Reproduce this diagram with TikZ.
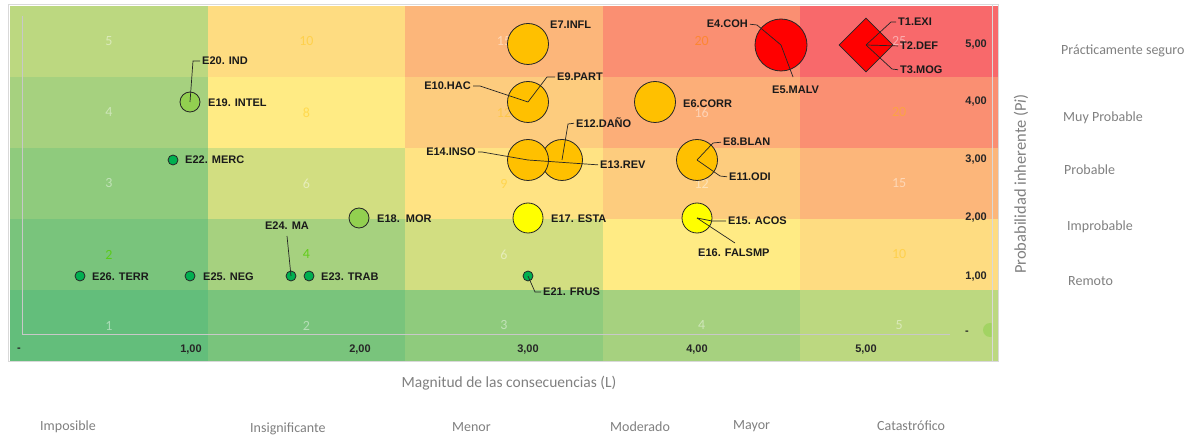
\documentclass[tikz,border=0pt]{standalone}
\usepackage{fontspec}
\setmainfont{Liberation Sans}
\newfontfamily\calib{Carlito}
\usetikzlibrary{shapes.geometric}
\definecolor{v1}{HTML}{63BE7B}
\definecolor{v2}{HTML}{79C47C}
\definecolor{v3}{HTML}{8FCB7D}
\definecolor{v4}{HTML}{A6D17F}
\definecolor{v5}{HTML}{BCD880}
\definecolor{v6}{HTML}{D2DE81}
\definecolor{v8}{HTML}{FFEB84}
\definecolor{v9}{HTML}{FFE383}
\definecolor{v10}{HTML}{FEDC81}
\definecolor{v12}{HTML}{FDCC7E}
\definecolor{v15}{HTML}{FCB67A}
\definecolor{v16}{HTML}{FCAE78}
\definecolor{v20}{HTML}{FA8F72}
\definecolor{v25}{HTML}{F8696B}
\definecolor{borange}{HTML}{FFC000}
\definecolor{bred}{HTML}{FF0000}
\definecolor{byellow}{HTML}{FFFF00}
\definecolor{blgreen}{HTML}{92D050}
\definecolor{bgreen}{HTML}{00B050}
\definecolor{labc}{HTML}{1A1A1A}
\definecolor{tickc}{HTML}{262626}
\definecolor{titlec}{HTML}{808080}
\definecolor{framec}{HTML}{D9D9D9}
\definecolor{axisc}{HTML}{C8C8C8}
\begin{document}
\begin{tikzpicture}[x=1pt,y=-1pt,
  lab/.style={font=\fontsize{11}{12}\selectfont\bfseries, text=labc, inner sep=0pt},
  bub/.style={circle, draw=black!85, line width=0.8pt, inner sep=0pt, minimum size=#1},
  lead/.style={draw=black!85, line width=0.7pt},
  cellnum/.style={font=\calib\fontsize{14}{14}\selectfont, inner sep=0pt},
  numW/.style={text=white, text opacity=0.45},
  numY/.style={text=borange, text opacity=0.4},
  numO/.style={text=orange, text opacity=0.55},
  numG/.style={text=green!60!yellow!80!black, text opacity=0.8},
  cat/.style={font=\calib\fontsize{14}{14}\selectfont, text=titlec, inner sep=0pt},
  tick/.style={font=\fontsize{11}{12}\selectfont\bfseries, text=tickc, inner sep=0pt}]
\useasboundingbox (0,0) rectangle (1202,438);
\fill[white] (0,0) rectangle (1202,438);
% heat map cells
\foreach \c in {1,...,5}{
  \foreach \r in {1,...,5}{
    \pgfmathtruncatemacro\v{\c*\r}
    \fill[v\v] ({10+197.6*(\c-1)},{361-71*\r}) rectangle ({10+197.6*\c},{361-71*(\r-1)});
  }
}
% cell numbers
\foreach \c/\r/\st in {1/5/numW,1/4/numW,1/3/numW,1/2/numG,1/1/numW,
  2/5/numY,2/4/numY,2/3/numW,2/2/numG,2/1/numW,
  3/5/numW,3/4/numY,3/3/numY,3/2/numW,3/1/numW,
  4/5/numO,4/4/numW,4/3/numW,4/2/numW,4/1/numW,
  5/5/numW,5/4/numY,5/3/numW,5/2/numY,5/1/numW}{
  \pgfmathtruncatemacro\v{\c*\r}
  \node[cellnum,\st] (n\c\r) at ({10+197.6*(\c-0.5)},{361-71*(\r-0.5)}) {\v};
}
% frame and axes
\draw[framec, line width=1pt] (8,5) rectangle (998,361);
\draw[framec, line width=0.8pt] (992,5) -- (992,361);
\draw[axisc, line width=0.8pt] (22,16) -- (22,334) -- (950,334);
\begin{scope}
  \clip (980,315) rectangle (991.5,345);
  \fill[blgreen, opacity=0.6] (990,330) circle (7);
\end{scope}
% bubbles
\node[bub=20pt, fill=blgreen] (e19) at (190,102) {};
\node[bub=10pt, fill=bgreen] (e22) at (173,160) {};
\node[bub=10pt, fill=bgreen] (e26) at (80,276) {};
\node[bub=10pt, fill=bgreen] (e25) at (190,276) {};
\node[bub=10pt, fill=bgreen] (e24) at (291,276) {};
\node[bub=10pt, fill=bgreen] (e23) at (309,276) {};
\node[bub=20pt, fill=blgreen] (e18) at (359,218) {};
\node[bub=10pt, fill=bgreen] (e21) at (528,276) {};
\node[bub=30pt, fill=byellow] (e17) at (528,218) {};
\node[bub=30pt, fill=byellow] (e15) at (697,218) {};
\node[bub=41pt, fill=borange] (e7) at (528,44) {};
\node[bub=41pt, fill=borange] (e9) at (528,102) {};
\node[bub=41pt, fill=borange] (e12) at (562,160) {};
\node[bub=41pt, fill=borange] (e14) at (528,160) {};
\node[bub=41pt, fill=borange] (e6) at (655,102) {};
\node[bub=41pt, fill=borange] (e8) at (697,160) {};
\node[bub=52pt, fill=bred] (e4) at (781,45) {};
\node[diamond, draw=black!85, line width=0.8pt, fill=bred, inner sep=0pt,
      minimum width=54pt, minimum height=54pt] (t1) at (866,45) {};
% labels
\node[lab, anchor=west] (l20) at (202,61) {E20. IND};
\node[lab, anchor=west] (l19) at (208,103) {E19. INTEL};
\node[lab, anchor=west] (l22) at (185,160) {E22. MERC};
\node[lab, anchor=west] (l26) at (92,277) {E26. TERR};
\node[lab, anchor=west] (l25) at (203,277) {E25. NEG};
\node[lab] (l24) at (287,226) {E24. MA};
\node[lab, anchor=west] (l23) at (321,277) {E23. TRAB};
\node[lab, anchor=west] (l18) at (377,219) {E18.\ \ MOR};
\node[lab, anchor=west] (l7) at (550,25) {E7.INFL};
\node[lab, anchor=east] (l10) at (471,86) {E10.HAC};
\node[lab, anchor=west] (l9) at (557,77) {E9.PART};
\node[lab, anchor=west] (l6) at (683,104) {E6.CORR};
\node[lab, anchor=west] (l12) at (576,123) {E12.DAÑO};
\node[lab, anchor=east] (l14) at (476,152) {E14.INSO};
\node[lab, anchor=west] (l13) at (600,165) {E13.REV};
\node[lab, anchor=west] (l8) at (723,142) {E8.BLAN};
\node[lab, anchor=west] (l11) at (729,177) {E11.ODI};
\node[lab, anchor=east] (l4) at (748,24) {E4.COH};
\node[lab, anchor=west] (l5) at (772,90) {E5.MALV};
\node[lab, anchor=west] (lt1) at (898,22) {T1.EXI};
\node[lab, anchor=west] (lt2) at (900,46) {T2.DEF};
\node[lab, anchor=west] (lt3) at (900,70) {T3.MOG};
\node[lab, anchor=west] (l17) at (551,219) {E17. ESTA};
\node[lab, anchor=west] (l15) at (728,221) {E15. ACOS};
\node[lab, anchor=west] (l16) at (698,253) {E16. FALSMP};
\node[lab, anchor=west] (l21) at (543,292) {E21. FRUS};
% leader bends
\coordinate (k20) at (193,61);
\coordinate (k10) at (480,86);
\coordinate (k9) at (547,77);
\coordinate (k12) at (568,124);
\coordinate (k14) at (482,152);
\coordinate (k8) at (713,143);
\coordinate (k11) at (720,176);
\coordinate (k4) at (757,25);
\coordinate (k5) at (793,77);
\coordinate (kt1) at (891,22);
\coordinate (kt3) at (892,69);
\coordinate (k15) at (712,221);
\coordinate (k16) at (735,243);
\coordinate (k21) at (535,292);
\coordinate (k24) at (287,236);
% leaders
\draw[lead, shorten >=2pt] (e19.center) -- (k20) -- (l20.west);
\draw[lead, shorten <=2pt] (l10.east) -- (k10) -- (e9.center);
\draw[lead, shorten >=2pt] (e9.center) -- (k9) -- (l9.west);
\draw[lead, shorten >=2pt] (e12.center) -- (k12) -- (l12.west);
\draw[lead, shorten <=2pt] (l14.east) -- (k14) -- (e14.center);
\draw[lead, shorten >=2pt] (e14.center) -- (l13.west);
\draw[lead, shorten >=2pt] (e8.center) -- (k8) -- (l8.west);
\draw[lead, shorten >=2pt] (e8.center) -- (k11) -- (l11.west);
\draw[lead, shorten <=2pt] (l4.east) -- (k4) -- (e4.center);
\draw[lead] (e4.center) -- (k5);
\draw[lead, shorten >=2pt] (t1.center) -- (kt1) -- (lt1.west);
\draw[lead, shorten >=2pt] (t1.center) -- (lt2.west);
\draw[lead, shorten >=2pt] (t1.center) -- (kt3) -- (lt3.west);
\draw[lead, shorten >=2pt] (e15.center) -- (k15) -- (l15.west);
\draw[lead] (e15.center) -- (k16);
\draw[lead, shorten >=2pt] (e21.center) -- (k21) -- (l21.west);
\draw[lead] (e24.center) -- (k24);
% tick labels
\node[tick] (x0) at (19,350) {-};
\node[tick] (x1) at (191,350) {1,00};
\node[tick] (x2) at (360,350) {2,00};
\node[tick] (x3) at (528,350) {3,00};
\node[tick] (x4) at (697,350) {4,00};
\node[tick] (x5) at (866,350) {5,00};
\node[tick, anchor=east] (y5) at (987,45) {5,00};
\node[tick, anchor=east] (y4) at (987,102) {4,00};
\node[tick, anchor=east] (y3) at (987,160) {3,00};
\node[tick, anchor=east] (y2) at (987,218) {2,00};
\node[tick, anchor=east] (y1) at (987,277) {1,00};
\node[tick] (y0) at (967,333) {-};
% axis titles
\node[font=\calib\fontsize{15.5}{16}\selectfont, text=titlec, inner sep=0pt] (xtitle) at (509,383) {Magnitud de las consecuencias (L)};
\node[rotate=90, font=\calib\fontsize{16.5}{17}\selectfont, text=titlec, inner sep=0pt] (ytitle) at (1021,184) {Probabilidad inherente (P\textit{i})};
% category labels right
\node[cat, anchor=west] (p5) at (1061,51) {Prácticamente seguro};
\node[cat, anchor=west] (p4) at (1063,118) {Muy Probable};
\node[cat, anchor=west] (p3) at (1064,170) {Probable};
\node[cat, anchor=west] (p2) at (1067,227) {Improbable};
\node[cat, anchor=west] (p1) at (1068,281) {Remoto};
% category labels bottom
\node[cat, anchor=west] (m0) at (40,427) {Imposible};
\node[cat, anchor=west] (m1) at (250,429) {Insignificante};
\node[cat, anchor=west] (m2) at (452,427) {Menor};
\node[cat, anchor=west] (m3) at (610,427) {Moderado};
\node[cat, anchor=west] (m4) at (733,426) {Mayor};
\node[cat, anchor=west] (m5) at (877,426) {Catastrófico};
\end{tikzpicture}
\end{document}
